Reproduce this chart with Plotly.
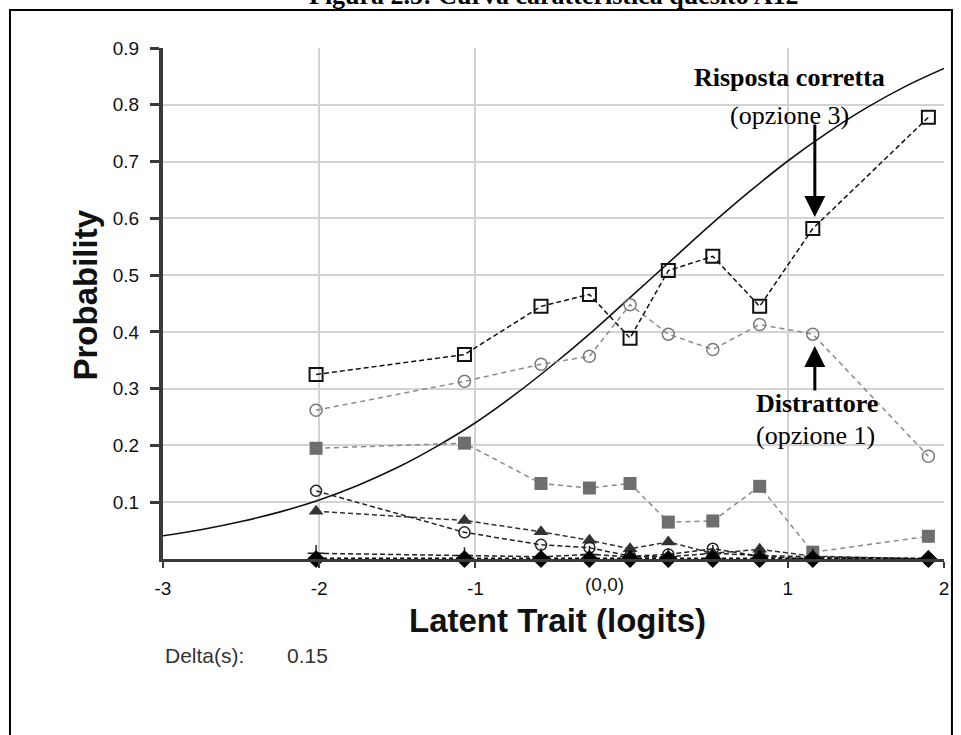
import plotly.graph_objects as go

# ---------------- data ----------------
theta = [-2.02, -1.07, -0.58, -0.27, -0.01, 0.235, 0.52, 0.82, 1.16, 1.90]

p_opt3_correct = [0.325, 0.360, 0.445, 0.466, 0.389, 0.508, 0.533, 0.445, 0.582, 0.778]
p_opt1_distr = [0.262, 0.313, 0.343, 0.357, 0.448, 0.396, 0.369, 0.413, 0.396, 0.181]
p_opt_graysq = [0.195, 0.204, 0.133, 0.125, 0.133, 0.065, 0.067, 0.128, 0.012, 0.040]
p_opt_triangle = [0.084, 0.068, 0.048, 0.033, 0.018, 0.030, 0.010, 0.017, 0.005, 0.000]
p_opt_blackcirc = [0.120, 0.047, 0.025, 0.020, 0.005, 0.008, 0.018, 0.005, 0.000, 0.000]
p_opt_plus = [0.010, 0.006, 0.004, 0.008, 0.004, 0.004, 0.010, 0.006, 0.004, 0.000]
p_missing = [0.0, 0.0, 0.0, 0.0, 0.0, 0.0, 0.0, 0.0, 0.0, 0.0]

icc_theta = [-3.0, -2.75, -2.5, -2.25, -2.0, -1.75, -1.5, -1.25, -1.0, -0.75, -0.5,
             -0.25, 0.0, 0.25, 0.5, 0.75, 1.0, 1.25, 1.5, 1.75, 2.0]
icc_prob = [0.041, 0.052, 0.066, 0.083, 0.104, 0.130, 0.161, 0.198, 0.240, 0.289, 0.343,
            0.401, 0.463, 0.525, 0.587, 0.646, 0.701, 0.750, 0.794, 0.832, 0.864]

x_tickvals = [-3, -2, -1, 1, 2]
x_ticktext = ["-3", "-2", "-1", "1", "2"]
y_tickvals = [0.1, 0.2, 0.3, 0.4, 0.5, 0.6, 0.7, 0.8, 0.9]
y_ticktext = ["0.1", "0.2", "0.3", "0.4", "0.5", "0.6", "0.7", "0.8", "0.9"]

title_text = "Figura 2.5: Curva caratteristica quesito A12"
delta_label = "Delta(s):"
delta_value = "0.15"

# ---------------- layout geometry ----------------
W, H = 961, 735
L, R, T, B = 163, 12, 48, 176
PW, PH = W - L - R, H - T - B


def px(xp):
    return (xp - L) / PW


def py(yp):
    return (H - B - yp) / PH


SANS = "Liberation Sans, Arial, sans-serif"
SERIF = "Liberation Serif, Times New Roman, serif"

fig = go.Figure()

# ICC model curve
fig.add_trace(go.Scatter(x=icc_theta, y=icc_prob, mode="lines",
                         line=dict(color="#111111", width=1.6, shape="spline"),
                         hoverinfo="skip", showlegend=False))

# distractor option 1 (gray open circles)
fig.add_trace(go.Scatter(x=theta, y=p_opt1_distr, mode="lines+markers",
                         line=dict(color="#8a8a8a", width=1.5, dash="5px,4px"),
                         marker=dict(symbol="circle-open", size=12, color="#7a7a7a",
                                     line=dict(width=1.5, color="#7a7a7a")),
                         showlegend=False))

# gray filled squares
fig.add_trace(go.Scatter(x=theta, y=p_opt_graysq, mode="lines+markers",
                         line=dict(color="#8a8a8a", width=1.5, dash="5px,4px"),
                         marker=dict(symbol="square", size=13, color="#6e6e6e"),
                         showlegend=False))

# triangles
fig.add_trace(go.Scatter(x=theta, y=p_opt_triangle, mode="lines+markers",
                         line=dict(color="#333333", width=1.5, dash="5px,3px"),
                         marker=dict(symbol="triangle-up", size=13, color="#333333"),
                         showlegend=False))

# black open circles
fig.add_trace(go.Scatter(x=theta, y=p_opt_blackcirc, mode="lines+markers",
                         line=dict(color="#222222", width=1.5, dash="5px,3px"),
                         marker=dict(symbol="circle-open", size=11, color="#222222",
                                     line=dict(width=1.5, color="#222222")),
                         showlegend=False))

# plus markers
fig.add_trace(go.Scatter(x=theta, y=p_opt_plus, mode="lines+markers",
                         line=dict(color="#222222", width=1.5, dash="5px,3px"),
                         marker=dict(symbol="cross-thin-open", size=12, color="#222222",
                                     line=dict(width=1.5, color="#222222")),
                         showlegend=False))

# correct answer option 3 (black open squares)
fig.add_trace(go.Scatter(x=theta, y=p_opt3_correct, mode="lines+markers",
                         line=dict(color="#111111", width=1.5, dash="5px,3px"),
                         marker=dict(symbol="square-open", size=13, color="#111111",
                                     line=dict(width=2, color="#111111")),
                         showlegend=False))

# missing (diamonds on the axis)
fig.add_trace(go.Scatter(x=theta, y=p_missing, mode="lines+markers",
                         line=dict(color="#000000", width=3, dash="4px,3px"),
                         marker=dict(symbol="diamond", size=14, color="#000000"),
                         cliponaxis=False, showlegend=False))

fig.update_xaxes(range=[-3, 2], tickvals=x_tickvals, ticktext=x_ticktext,
                 showgrid=True, gridcolor="#d3d3d3", gridwidth=2,
                 zeroline=False, showline=True, linecolor="#3a3a3a", linewidth=3,
                 ticks="outside", ticklen=6, tickwidth=2, tickcolor="#3a3a3a",
                 ticklabelstandoff=4,
                 tickfont=dict(family=SANS, size=19, color="#111111"))
fig.update_yaxes(range=[0, 0.9], tickvals=y_tickvals, ticktext=y_ticktext,
                 showgrid=True, gridcolor="#d3d3d3", gridwidth=2,
                 zeroline=False, showline=True, linecolor="#3a3a3a", linewidth=4,
                 ticks="outside", ticklen=9, tickwidth=3, tickcolor="#3a3a3a",
                 ticklabelstandoff=7,
                 tickfont=dict(family=SANS, size=19, color="#111111"))

annotations = [
    # cut-off document caption at the very top (as in the reference)
    dict(text="<b>" + title_text + "</b>", xref="paper", yref="paper",
         x=px(557), y=py(12), xanchor="center", yanchor="bottom", showarrow=False,
         font=dict(family=SERIF, size=26, color="#000000")),
    # axis titles
    dict(text="<b>Latent Trait (logits)</b>", xref="paper", yref="paper",
         x=px(560), y=py(620), xanchor="center", yanchor="middle", showarrow=False,
         font=dict(family=SANS, size=33, color="#111111")),
    dict(text="<b>Probability</b>", xref="paper", yref="paper", textangle=-90,
         x=px(85), y=py(295), xanchor="center", yanchor="middle", showarrow=False,
         font=dict(family=SANS, size=33, color="#111111")),
    # (0,0) origin label
    dict(text="(0,0)", xref="paper", yref="paper",
         x=px(607), y=py(585), xanchor="center", yanchor="middle", showarrow=False,
         font=dict(family=SANS, size=19, color="#111111")),
    # delta
    dict(text=delta_label, xref="paper", yref="paper",
         x=px(163), y=py(655), xanchor="left", yanchor="middle", showarrow=False,
         font=dict(family=SANS, size=21, color="#333333")),
    dict(text=delta_value, xref="paper", yref="paper",
         x=px(286), y=py(655), xanchor="left", yanchor="middle", showarrow=False,
         font=dict(family=SANS, size=21, color="#333333")),
    # callouts
    dict(text="<b>Risposta corretta</b>", xref="paper", yref="paper",
         x=px(794), y=py(77), xanchor="center", yanchor="middle", showarrow=False,
         font=dict(family=SERIF, size=26, color="#000000")),
    dict(text="(opzione 3)", xref="paper", yref="paper",
         x=px(794), y=py(115), xanchor="center", yanchor="middle", showarrow=False,
         font=dict(family=SERIF, size=26, color="#000000")),
    dict(text="<b>Distrattore</b>", xref="paper", yref="paper",
         x=px(821), y=py(403), xanchor="center", yanchor="middle", showarrow=False,
         font=dict(family=SERIF, size=26, color="#000000")),
    dict(text="(opzione 1)", xref="paper", yref="paper",
         x=px(820), y=py(435), xanchor="center", yanchor="middle", showarrow=False,
         font=dict(family=SERIF, size=26, color="#000000")),
    # arrows
    dict(text="", xref="paper", yref="paper", axref="pixel", ayref="pixel",
         x=px(819), y=py(217), ax=0, ay=-94, showarrow=True,
         arrowhead=2, arrowsize=1.4, arrowwidth=3, arrowcolor="#000000"),
    dict(text="", xref="paper", yref="paper", axref="pixel", ayref="pixel",
         x=px(819), y=py(346), ax=0, ay=46, showarrow=True,
         arrowhead=2, arrowsize=1.4, arrowwidth=3, arrowcolor="#000000"),
]

shapes = [
    dict(type="rect", xref="paper", yref="paper",
         x0=px(9), x1=px(957), y0=py(780), y1=py(10),
         line=dict(color="#000000", width=2), fillcolor="rgba(0,0,0,0)", layer="below"),
]

fig.update_layout(width=W, height=H, margin=dict(l=L, r=R, t=T, b=B),
                  paper_bgcolor="white", plot_bgcolor="white",
                  annotations=annotations, shapes=shapes, showlegend=False)

fig.write_html("out.html")
